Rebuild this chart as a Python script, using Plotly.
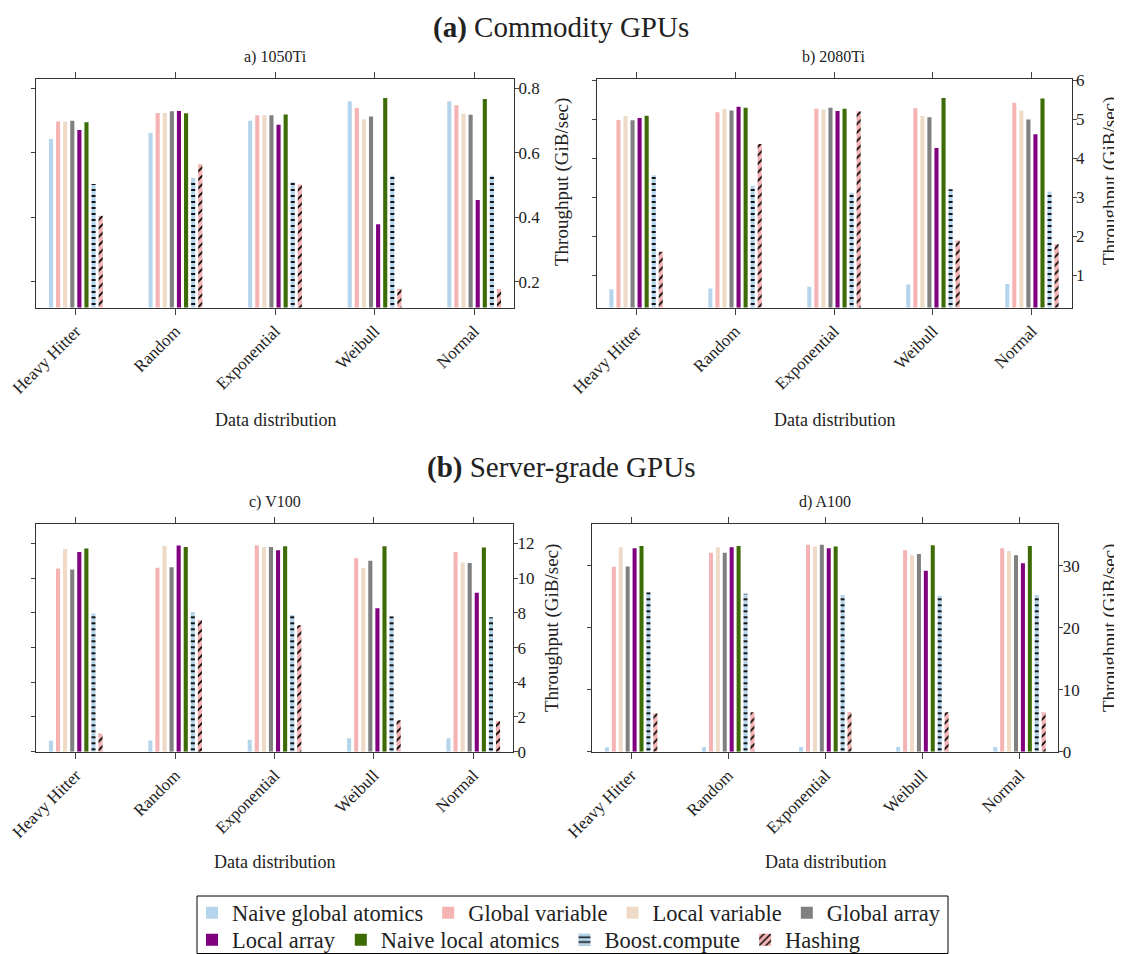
import plotly.graph_objects as go

# ---------------- data ----------------
categories = ["Heavy Hitter", "Random", "Exponential", "Weibull", "Normal"]
series = ["Naive global atomics", "Global variable", "Local variable", "Global array",
          "Local array", "Naive local atomics", "Boost.compute", "Hashing"]

# rows follow `series`, columns follow `categories` (GiB/sec)
tp_1050ti = [
    [0.642, 0.661, 0.699, 0.759, 0.759],
    [0.696, 0.723, 0.716, 0.738, 0.747],
    [0.696, 0.723, 0.716, 0.703, 0.720],
    [0.699, 0.728, 0.716, 0.712, 0.717],
    [0.670, 0.729, 0.686, 0.378, 0.453],
    [0.694, 0.722, 0.718, 0.769, 0.766],
    [0.503, 0.519, 0.508, 0.528, 0.528],
    [0.404, 0.564, 0.501, 0.178, 0.177],
]
tp_2080ti = [
    [0.64, 0.66, 0.70, 0.76, 0.77],
    [4.98, 5.18, 5.27, 5.28, 5.42],
    [5.08, 5.26, 5.25, 5.08, 5.22],
    [4.97, 5.22, 5.29, 5.05, 4.99],
    [5.03, 5.32, 5.21, 4.26, 4.61],
    [5.09, 5.29, 5.27, 5.54, 5.53],
    [3.56, 3.29, 3.11, 3.20, 3.14],
    [1.60, 4.36, 5.20, 1.89, 1.80],
]
tp_v100 = [
    [0.63, 0.65, 0.69, 0.77, 0.77],
    [10.56, 10.60, 11.90, 11.15, 11.50],
    [11.67, 11.85, 11.79, 10.58, 10.90],
    [10.50, 10.62, 11.79, 11.00, 10.87],
    [11.50, 11.88, 11.60, 8.27, 9.15],
    [11.71, 11.79, 11.83, 11.83, 11.77],
    [7.96, 8.02, 7.87, 7.81, 7.75],
    [1.04, 7.58, 7.29, 1.81, 1.77],
]
tp_a100 = [
    [0.70, 0.70, 0.75, 0.75, 0.75],
    [29.84, 32.10, 33.40, 32.50, 32.85],
    [33.00, 33.00, 33.10, 31.70, 32.40],
    [29.90, 32.10, 33.40, 31.90, 31.70],
    [32.85, 33.00, 32.85, 29.20, 30.40],
    [33.20, 33.20, 33.10, 33.30, 33.20],
    [25.75, 25.50, 25.30, 25.15, 25.30],
    [6.20, 6.36, 6.36, 6.36, 6.36],
]

panel_titles = ["a) 1050Ti", "b) 2080Ti", "c) V100", "d) A100"]
y_ticks = [[0.2, 0.4, 0.6, 0.8], [1, 2, 3, 4, 5, 6], [0, 2, 4, 6, 8, 10, 12], [0, 10, 20, 30]]
y_ranges = [[0.12, 0.828], [0.17, 6.03], [0, 13.1], [0, 36.7]]

# ---------------- styling ----------------
# the page puts the plot 8px in from the window's top-left corner
OFF = 8
W, H = 1122 - OFF, 954 - OFF
FONT = "Liberation Serif"
TXT = "#222222"
colors = ["#b5d5ec", "#f5b3b3", "#eedac6", "#808080", "#800080", "#3d6b05", "#b5d5ec", "#f5b3b3"]
patterns = ["", "", "", "", "", "", "-", "/"]

def px_x(x):
    return (x - OFF) / W

def px_y(y):
    return 1 - (y - OFF) / H

# plot-area boxes in window pixels: (left, right, top, bottom)
boxes = [(36, 514, 79, 307.5), (596.5, 1071.5, 79, 307.5),
         (36, 513, 524.3, 751.7), (592.3, 1058.3, 524.3, 751.7)]

data_sets = [tp_1050ti, tp_2080ti, tp_v100, tp_a100]

fig = go.Figure()
for p, tp in enumerate(data_sets):
    xa = "x" if p == 0 else f"x{p+1}"
    ya = "y" if p == 0 else f"y{p+1}"
    for s, name in enumerate(series):
        marker = dict(color=colors[s], line=dict(width=0))
        if patterns[s]:
            marker["pattern"] = dict(shape=patterns[s], fgcolor="black", bgcolor=colors[s],
                                     fillmode="replace", size=6, solidity=0.3)
        fig.add_trace(go.Bar(
            x=categories, y=tp[s],
            name=f"<span style='font-family:{FONT}'>{name}</span>",
            xaxis=xa, yaxis=ya,
            marker=marker, showlegend=(p == 0),
            legend="legend" if s < 4 else "legend2",
        ))

axis_common = dict(showgrid=False, zeroline=False, showline=True, linecolor="#333333", linewidth=1,
                   ticks="outside", tickcolor="#444444", mirror="ticks", automargin=False,
                   tickfont=dict(family=FONT, size=17, color=TXT))

layout = dict(template="none", width=W, height=H,
              margin=dict(l=0, r=0, t=0, b=0, pad=0, autoexpand=False),
              paper_bgcolor="white", plot_bgcolor="white",
              barmode="group", bargap=0.43, bargroupgap=0.42,
              font=dict(family=FONT, color=TXT, size=22))

for p in range(4):
    l, r, t, b = boxes[p]
    xk = "xaxis" if p == 0 else f"xaxis{p+1}"
    yk = "yaxis" if p == 0 else f"yaxis{p+1}"
    ya_ref = "y" if p == 0 else f"y{p+1}"
    xa_ref = "x" if p == 0 else f"x{p+1}"
    layout[xk] = dict(axis_common, domain=[px_x(l), px_x(r)], anchor=ya_ref, ticklen=6,
                      type="category", range=[-0.4, 4.4], tickangle=-45)
    layout[yk] = dict(axis_common, domain=[px_y(b), px_y(t)], anchor=xa_ref, side="right",
                      ticklen=4, ticklabelstandoff=-4,
                      range=y_ranges[p], tickvals=y_ticks[p],
                      ticktext=[("%g" % v) for v in y_ticks[p]])

fig.update_layout(**layout)

leg_font = dict(family=FONT, size=22.5, color=TXT)
fig.update_layout(
    legend=dict(orientation="h", x=px_x(192), xanchor="left", y=px_y(913), yanchor="middle",
                bgcolor="rgba(0,0,0,0)", borderwidth=0, traceorder="normal", font=leg_font),
    legend2=dict(orientation="h", x=px_x(192), xanchor="left", y=px_y(940), yanchor="middle",
                 bgcolor="rgba(0,0,0,0)", borderwidth=0, traceorder="normal", font=leg_font),
)

# legend frame
fig.add_shape(type="rect", xref="paper", yref="paper",
              x0=px_x(197), x1=px_x(948), y0=px_y(953.5), y1=px_y(896),
              line=dict(color="black", width=1), fillcolor="rgba(0,0,0,0)")

ann = []
# group titles
ann.append(dict(text="<b>(a)</b> Commodity GPUs", x=px_x(561), y=px_y(27), font=dict(size=29)))
ann.append(dict(text="<b>(b)</b> Server-grade GPUs", x=px_x(561), y=px_y(467), font=dict(size=29)))
# panel titles, x titles, y titles
ytitle_x = [562, 1110, 552, 1110]
ytitle_y = [182, 181, 628, 628]
for p in range(4):
    l, r, t, b = boxes[p]
    cx = (l + r) / 2
    title_y = 57 if p < 2 else 502
    xt_y = 420 if p < 2 else 862
    ann.append(dict(text=panel_titles[p], x=px_x(cx), y=px_y(title_y), font=dict(size=16)))
    ann.append(dict(text="Data distribution", x=px_x(cx), y=px_y(xt_y), font=dict(size=18)))
    ann.append(dict(text="Throughput (GiB/sec)", x=px_x(ytitle_x[p]), y=px_y(ytitle_y[p]),
                    textangle=-90, font=dict(size=19)))
for a in ann:
    a.update(xref="paper", yref="paper", showarrow=False, xanchor="center", yanchor="middle")
    a["font"] = dict(family=FONT, color=TXT, **a["font"])
fig.update_layout(annotations=ann)

fig.write_html("out.html")
